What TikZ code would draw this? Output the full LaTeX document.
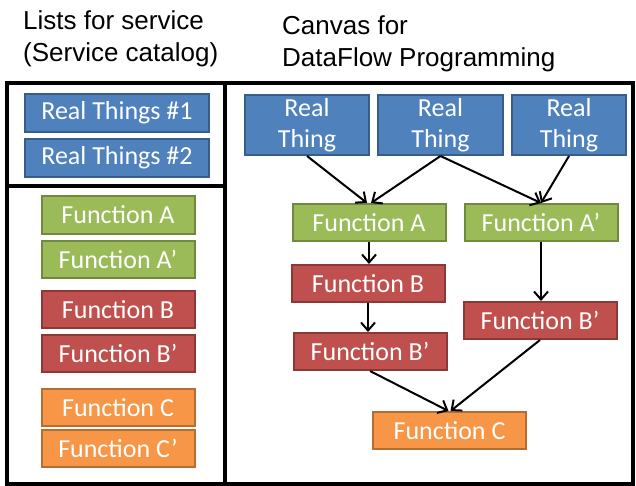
\documentclass[tikz,border=0pt]{standalone}
\usepackage{fontspec}
\setmainfont{Carlito}
\newfontfamily\titlefont{Liberation Sans}
\usetikzlibrary{arrows.meta}

\definecolor{thingfill}{HTML}{4F81BD}
\definecolor{thingline}{HTML}{385D8A}
\definecolor{funcAfill}{HTML}{9BBB59}
\definecolor{funcAline}{HTML}{71893F}
\definecolor{funcBfill}{HTML}{C0504D}
\definecolor{funcBline}{HTML}{8C3836}
\definecolor{funcCfill}{HTML}{F79646}
\definecolor{funcCline}{HTML}{B66D31}

\tikzset{
  box/.style={draw, line width=2pt, inner sep=0pt, text=white, align=center,
    font=\fontsize{26}{31}\selectfont},
  thing/.style={box, fill=thingfill, draw=thingline},
  funcA/.style={box, fill=funcAfill, draw=funcAline, minimum width=153pt, minimum height=37pt},
  funcB/.style={box, fill=funcBfill, draw=funcBline, minimum width=153pt, minimum height=37pt},
  funcC/.style={box, fill=funcCfill, draw=funcCline, minimum width=153pt, minimum height=37pt},
  flow/.style={line width=2pt, -{Straight Barb[length=8pt,width=14pt]}},
  frame/.style={line width=3.5pt},
  title/.style={anchor=base west, inner sep=0pt, font=\titlefont\fontsize{26}{33}\selectfont},
}

\begin{document}
\begin{tikzpicture}[x=1pt,y=-1pt]
\useasboundingbox (0,0) rectangle (636,486);

% headings
\node[title] (listTitle1) at (23,30) {Lists for service};
\node[title] (listTitle2) at (23,62) {(Service catalog)};
\node[title] (canvasTitle1) at (282,35) {Canvas for};
\node[title] (canvasTitle2) at (282,67) {DataFlow Programming};

% panels
\draw[frame] (7,83) rectangle (225,484);
\draw[frame] (7,186) -- (225,186);
\draw[frame] (225,83) rectangle (633,484);

% service catalog
\node[thing, minimum width=184pt, minimum height=38pt] (listThing1) at (117,113) {Real Things \#1};
\node[thing, minimum width=184pt, minimum height=38pt] (listThing2) at (117,158) {Real Things \#2};
\node[funcA] (listFuncA) at (118,215) {Function A};
\node[funcA] (listFuncAp) at (118,259) {Function A’};
\node[funcB] (listFuncB) at (118,309.5) {Function B};
\node[funcB] (listFuncBp) at (118,353.5) {Function B’};
\node[funcC] (listFuncC) at (118,407.5) {Function C};
\node[funcC] (listFuncCp) at (118,448.5) {Function C’};

% dataflow canvas
\node[thing, minimum width=124pt, minimum height=60pt] (thing1) at (307,125) {Real\\Thing};
\node[thing, minimum width=125pt, minimum height=60pt] (thing2) at (440.5,125) {Real\\Thing};
\node[thing, minimum width=114pt, minimum height=60pt] (thing3) at (569,125) {Real\\Thing};
\node[funcA] (funcA) at (369,222.5) {Function A};
\node[funcA] (funcAp) at (541,222.5) {Function A’};
\node[funcB] (funcB) at (368,283.5) {Function B};
\node[funcB] (funcBp) at (540,320.5) {Function B’};
\node[funcB] (funcBpp) at (370,351.5) {Function B’};
\node[funcC] (funcC) at (449.5,430.5) {Function C};

\draw[flow] (thing1.south) -- ([xshift=-2pt]funcA.north);
\draw[flow] (thing2.south) -- ([xshift=2pt]funcA.north);
\draw[flow] (thing2.south) -- (funcAp.north);
\draw[flow] (thing3.south) -- (funcAp.north);
\draw[flow] (funcA.south) -- (funcA.south |- funcB.north);
\draw[flow] (funcAp.south) -- (funcAp.south |- funcBp.north);
\draw[flow] (funcB.south) -- (funcB.south |- funcBpp.north);
\draw[flow] (funcBpp.south) -- ([xshift=-1pt]funcC.north);
\draw[flow] (funcBp.south) -- ([xshift=1pt]funcC.north);
\end{tikzpicture}
\end{document}
